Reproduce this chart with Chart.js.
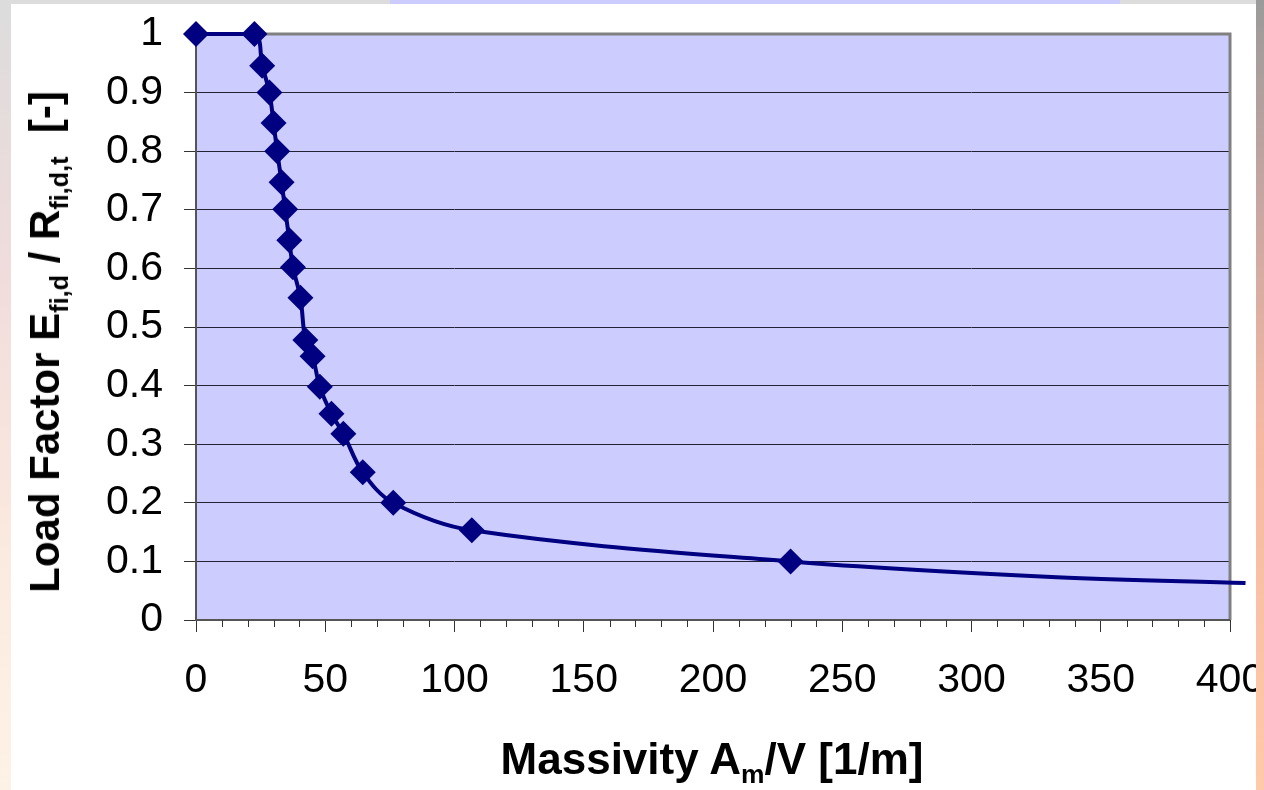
<!DOCTYPE html>
<html>
<head>
<meta charset="utf-8">
<script src="https://cdn.jsdelivr.net/npm/chart.js@4.4.1/dist/chart.umd.min.js"></script>
<style>
  html, body { margin: 0; padding: 0; }
  body {
    width: 1264px; height: 790px; overflow: hidden; position: relative;
    background: linear-gradient(180deg, #dcdcdc 0%, #f1dcdc 35%, #fbeadf 70%, #fdf2e6 100%);
    font-family: "Liberation Sans", Arial, sans-serif;
  }
  #faixa-topo { position: absolute; left: 390px; top: 0; width: 730px; height: 4px; background: #ccccff; }
  #faixa-direita {
    position: absolute; left: 1256px; top: 0; width: 8px; height: 790px;
    background: linear-gradient(180deg, #9a9a9a 0%, #cfa8a2 30%, #f5b9a2 55%, #ffcaa8 100%);
  }
  #painel { position: absolute; left: 11px; top: 4px; width: 1245px; height: 786px; background: #fff; }
  #grafico { position: absolute; left: 0; top: 0; }
  .titulo-eixo { position: absolute; font-weight: bold; font-size: 44px; color: #000; white-space: nowrap; line-height: 1; }
  .titulo-eixo sub { font-size: 0.6em; vertical-align: -0.35em; line-height: 0; }
  #titulo-x { left: 712px; top: 759px; transform: translate(-50%, -50%); }
  #titulo-y { left: 45px; top: 342px; transform: translate(-50%, -50%) rotate(-90deg); font-size: 42px; }
</style>
</head>
<body>
<div id="faixa-topo"></div>
<div id="painel"></div>
<canvas id="grafico" width="1264" height="790"></canvas>
<div id="faixa-direita"></div>
<div class="titulo-eixo" id="titulo-x">Massivity A<sub>m</sub>/V [1/m]</div>
<div class="titulo-eixo" id="titulo-y">Load Factor E<sub>fi,d</sub> / R<sub>fi,d,t</sub>&nbsp; [-]</div>

<script>
// pontos com marcador (losango)
const massivity = [0, 22.6, 25.6, 28.4, 30.0, 31.4, 33.1, 34.5, 36.1, 37.5, 40.4, 42.3, 45.1, 47.9, 52.4, 57.0, 64.5, 76.3, 106.7, 230];
const loadFactor = [1, 1, 0.946, 0.9, 0.848, 0.8, 0.747, 0.701, 0.648, 0.602, 0.55, 0.478, 0.45, 0.398, 0.352, 0.318, 0.252, 0.2, 0.153, 0.1];

// continuação da curva sem marcador
const tailMassivity = [333, 406];
const tailLoadFactor = [0.073, 0.063];

const xTicks = [0, 50, 100, 150, 200, 250, 300, 350, 400];
const yTicks = [0, 0.1, 0.2, 0.3, 0.4, 0.5, 0.6, 0.7, 0.8, 0.9, 1];
const xMinorStep = 10;

const corSerie = "#000080";
const fonteTicks = { family: "'Liberation Sans', Arial, sans-serif", size: 41 };

const pontos = massivity.map((x, i) => ({ x: x, y: loadFactor[i] }))
  .concat(tailMassivity.map((x, i) => ({ x: x, y: tailLoadFactor[i] })));

// fundo lilás da área do gráfico
const fundoArea = {
  id: "fundoArea",
  beforeDraw(chart) {
    const { ctx, chartArea: a } = chart;
    ctx.save();
    ctx.fillStyle = "#ccccff";
    ctx.fillRect(a.left, a.top, a.right - a.left, a.bottom - a.top);
    ctx.restore();
  }
};

// borda cinza + marcas menores do eixo x
const bordaArea = {
  id: "bordaArea",
  beforeDatasetsDraw(chart) {
    const { ctx, chartArea: a, scales } = chart;
    ctx.save();
    ctx.strokeStyle = "#808080";
    ctx.lineWidth = 3;
    ctx.beginPath();
    ctx.moveTo(a.left, a.top);
    ctx.lineTo(a.right, a.top);
    ctx.lineTo(a.right, a.bottom);
    ctx.stroke();
    ctx.strokeStyle = "#555";
    ctx.lineWidth = 2;
    ctx.beginPath();
    ctx.moveTo(a.left, a.top);
    ctx.lineTo(a.left, a.bottom);
    ctx.lineTo(a.right, a.bottom);
    ctx.stroke();

    const x = scales.x;
    ctx.strokeStyle = "#333";
    ctx.lineWidth = 1;
    ctx.beginPath();
    for (let v = x.min; v <= x.max; v += xMinorStep) {
      if (xTicks.includes(v)) continue;
      const px = Math.round(x.getPixelForValue(v)) + 0.5;
      ctx.moveTo(px, a.bottom);
      ctx.lineTo(px, a.bottom + 7);
    }
    ctx.stroke();
    ctx.restore();
  }
};

// tamanhos fixos dos eixos, sem folga extra dos rótulos
function fixarEixo(s, tamanho) {
  if (s.isHorizontal()) s.height = tamanho; else s.width = tamanho;
  s.paddingTop = 0;
  s.paddingBottom = 0;
  s.paddingLeft = 0;
  s.paddingRight = 0;
}

new Chart(document.getElementById("grafico"), {
  type: "scatter",
  data: {
    datasets: [{
      label: "Load Factor",
      data: pontos,
      showLine: true,
      borderColor: corSerie,
      borderWidth: 4,
      tension: 0.35,
      backgroundColor: corSerie,
      pointStyle: "rectRot",
      pointRadius: (c) => c.dataIndex < massivity.length ? 13 : 0,
      pointBorderWidth: 0,
      pointBackgroundColor: corSerie,
      clip: false
    }]
  },
  options: {
    responsive: false,
    animation: false,
    layout: { padding: { left: 0, right: 34, top: 34, bottom: 0 } },
    plugins: {
      legend: { display: false },
      tooltip: { enabled: false }
    },
    scales: {
      x: {
        type: "linear",
        min: 0,
        max: 400,
        afterFit: (s) => fixarEixo(s, 170),
        afterBuildTicks: (s) => { s.ticks = xTicks.map(v => ({ value: v })); },
        border: { display: false },
        grid: { drawOnChartArea: false, drawTicks: true, tickLength: 12, tickColor: "#333" },
        ticks: { color: "#000", font: fonteTicks, padding: 24, maxRotation: 0, autoSkip: false }
      },
      y: {
        min: 0,
        max: 1,
        afterFit: (s) => fixarEixo(s, 196),
        afterBuildTicks: (s) => { s.ticks = yTicks.map(v => ({ value: v })); },
        border: { display: false },
        grid: { color: "#222236", lineWidth: 1, drawTicks: true, tickLength: 12, tickColor: "#333" },
        ticks: { color: "#000", font: fonteTicks, padding: 21, callback: (v) => String(v) }
      }
    }
  },
  plugins: [fundoArea, bordaArea]
});
</script>
</body>
</html>
